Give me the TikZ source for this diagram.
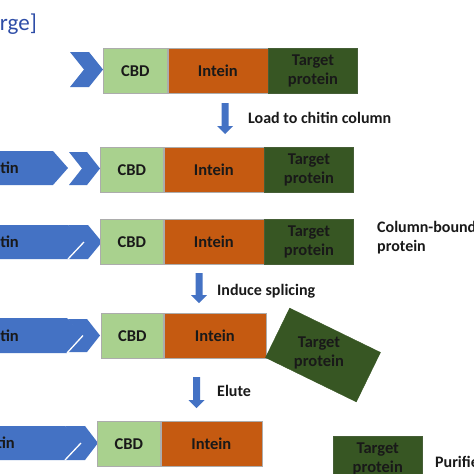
\documentclass[tikz,border=0pt]{standalone}
\usepackage{fontspec}
\setmainfont{Carlito}
\definecolor{chev}{HTML}{4472C4}
\definecolor{cbdc}{HTML}{A9D18E}
\definecolor{intc}{HTML}{C55A11}
\definecolor{tgtc}{HTML}{375623}
\definecolor{titc}{HTML}{2E4DA7}
\newcommand\myDownArrow[4]{% cx, top, head start, tip
  \fill[chev] (#1-3.5,#2) -- (#1+3.5,#2) -- (#1+3.5,#3) -- (#1+8,#3) -- (#1,#4) -- (#1-8,#3) -- (#1-3.5,#3) -- cycle;}
\begin{document}
\begin{tikzpicture}[x=1pt,y=-1pt,
  seg/.style={draw=gray!65, line width=0.6pt, inner sep=0pt, minimum height=45pt, anchor=north west,
    align=center, font=\fontsize{16.5}{19}\selectfont\bfseries, text=black!90},
  cbdbox/.style={seg, fill=cbdc, minimum width=#1},
  intbox/.style={seg, fill=intc, minimum width=#1},
  tgtbox/.style={seg, fill=tgtc, draw=tgtc!80!gray, minimum width=#1},
  lbl/.style={font=\fontsize{16}{19}\selectfont\bfseries, text=black!90, inner sep=0pt, align=left},
  chtxt/.style={font=\fontsize{16.5}{19}\selectfont\bfseries, text=black!90, inner sep=0pt, anchor=east},
  sep/.style={white, line width=1.3pt}]
\useasboundingbox (0,0) rectangle (474,474);
\clip (0,0) rectangle (474,474);
\fill[white] (0,0) rectangle (474,474);

% title fragment
\node[font=\fontsize{23}{26}\selectfont, text=titc, inner sep=0pt, anchor=east] (title) at (37,24) {[Click to enlarge]};

% Row 1
\fill[chev] (70,52) -- (89,52) -- (103,69.5) -- (89,87) -- (70,87) -- (84,69.5) -- cycle;
\node[cbdbox=64pt] (c1) at (103,48) {CBD};
\node[intbox=100pt] (i1) at (c1.north east) {Intein};
\node[tgtbox=89pt] (t1) at (i1.north east) {Target\\protein};

\myDownArrow{225}{103}{126}{134}
\node[lbl, anchor=west] (l1) at (248,118) {Load to chitin column};

% Row 2
\fill[chev] (69,152) -- (87,152) -- (100,168.5) -- (87,185) -- (69,185) -- (82,168.5) -- cycle;
\fill[chev] (-5,151) -- (53,151) -- (68,168) -- (53,185) -- (-5,185) -- cycle;
\node[chtxt] (ch2) at (19,168) {Chitin};
\node[cbdbox=63pt] (c2) at (100,147) {CBD};
\node[intbox=100pt] (i2) at (c2.north east) {Intein};
\node[tgtbox=89pt] (t2) at (i2.north east) {Target\\protein};

% Row 3
\fill[chev] (68,225) -- (88,225) -- (102,242) -- (88,259) -- (68,259) -- (81,242) -- cycle;
\fill[chev] (-5,225) -- (68,225) -- (84,242) -- (68,259) -- (-5,259) -- cycle;
\draw[sep] (84,242) -- (68,259);
\node[chtxt] (ch3) at (19,242) {Chitin};
\node[cbdbox=63pt] (c3) at (100,219) {CBD};
\node[intbox=100pt] (i3) at (c3.north east) {Intein};
\node[tgtbox=89pt] (t3) at (i3.north east) {Target\\protein};
\node[lbl, anchor=west] (l3) at (377,238) {Column-bound\\protein};

\myDownArrow{199}{273}{295}{303}
\node[lbl, anchor=west] (l2) at (217,291) {Induce splicing};

% Row 4
\fill[chev] (68,319) -- (87,319) -- (100,335.5) -- (87,352) -- (68,352) -- (81,335.5) -- cycle;
\fill[chev] (-5,318) -- (67,318) -- (83,335.5) -- (67,353) -- (-5,353) -- cycle;
\draw[sep] (83,335.5) -- (67,353);
\node[chtxt] (ch4) at (19,335.5) {Chitin};
\node[cbdbox=62pt] (c4) at (101,313) {CBD};
\node[intbox=102pt] (i4) at (c4.north east) {Intein};
\node[draw=tgtc, fill=tgtc, minimum width=101pt, minimum height=55pt, inner sep=0pt, rotate=-26] (t4) at (323,355) {};
\node[align=center, font=\fontsize{16.5}{19}\selectfont\bfseries, text=black!90, inner sep=0pt] (t4txt) at (319,353) {Target\\protein};

\myDownArrow{196.5}{377}{400}{408}
\node[lbl, anchor=west] (l4) at (217,391) {Elute};

% Row 5
\fill[chev] (65,426) -- (85,426) -- (98,443) -- (85,460) -- (65,460) -- (78,443) -- cycle;
\fill[chev] (-5,426) -- (65,426) -- (81,443) -- (65,460) -- (-5,460) -- cycle;
\draw[sep] (81,443) -- (65,460);
\node[chtxt] (ch5) at (15,443) {Chitin};
\node[cbdbox=63pt] (c5) at (97,421) {CBD};
\node[intbox=101pt] (i5) at (c5.north east) {Intein};

\node[tgtbox=89pt] (t5) at (333,436) {Target\\protein};
\node[lbl, anchor=west] (l5) at (435,462) {Purified};
\end{tikzpicture}
\end{document}
